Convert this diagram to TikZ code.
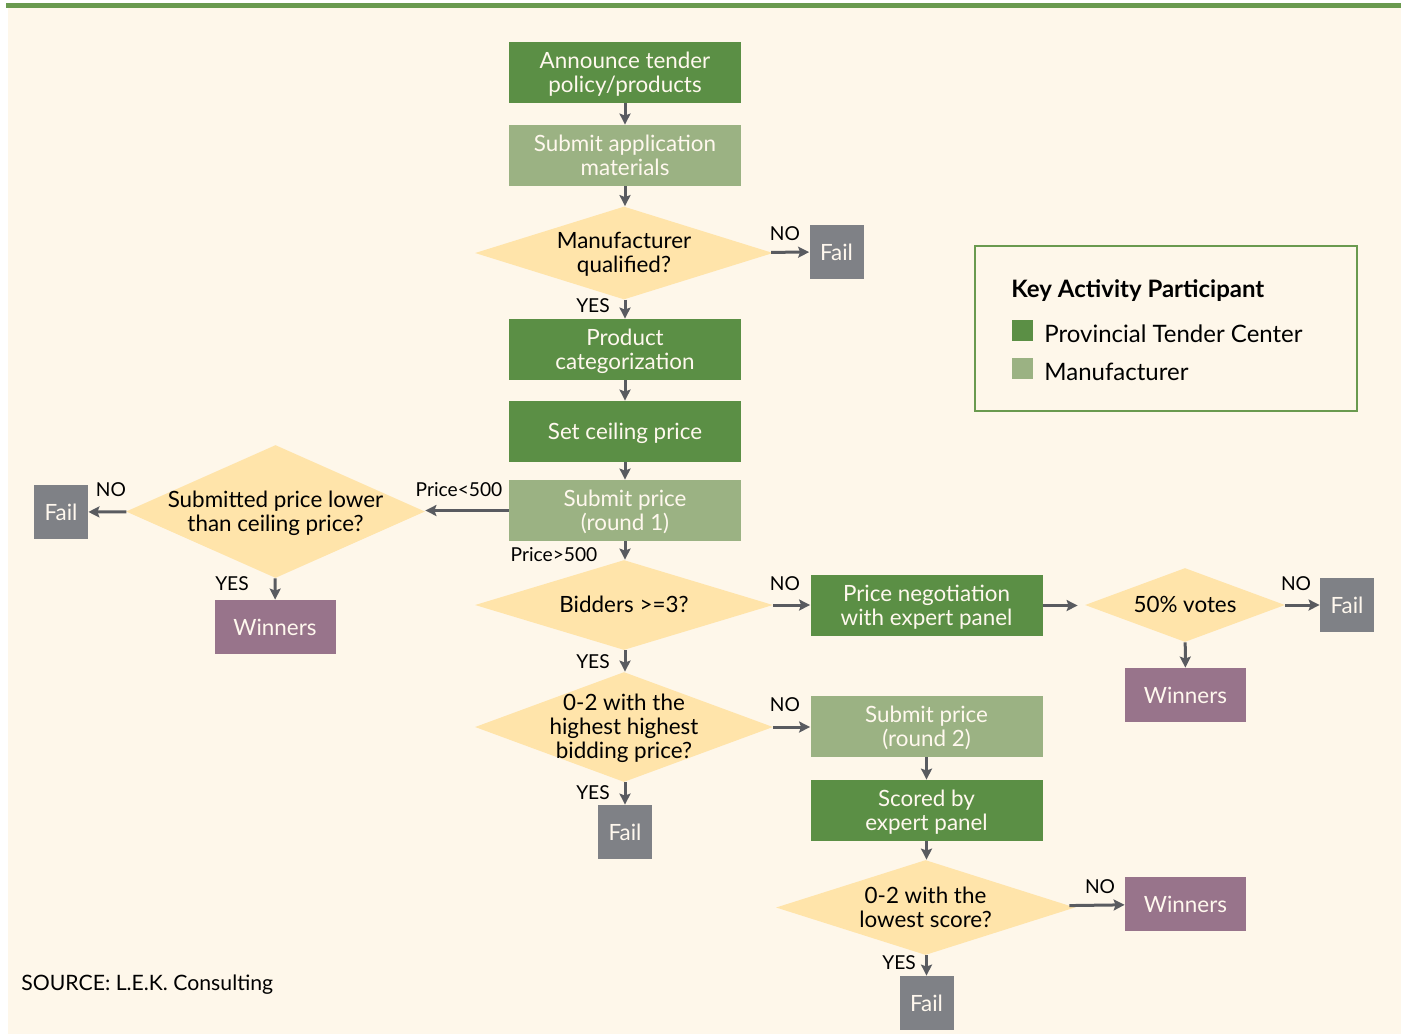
\documentclass[tikz,border=0pt]{standalone}
\usepackage{fontspec}
\setmainfont{Lato}
\usetikzlibrary{shapes.geometric,arrows.meta}
\definecolor{dkg}{HTML}{5B8F45}
\definecolor{ltg}{HTML}{9BB283}
\definecolor{dia}{HTML}{FFE4AA}
\definecolor{gbox}{HTML}{7F8186}
\definecolor{pbox}{HTML}{98748B}
\definecolor{bgc}{HTML}{FEF7EA}
\definecolor{arrc}{HTML}{595B60}
\definecolor{topg}{HTML}{6A9A4F}
\definecolor{txtw}{HTML}{FFF8EE}
\newcommand\dtext[1]{\smash{\makebox[0pt]{\raisebox{-4.2pt}{\begin{tabular}{@{}c@{}}#1\end{tabular}}}}}
\newcommand\btext[1]{\raisebox{-1.5pt}[\height][\depth]{\begin{tabular}{@{}c@{}}#1\end{tabular}}}
\begin{document}
\begin{tikzpicture}[x=0.5pt,y=-0.5pt,
  boxfont/.style={font=\fontsize{11.2}{12}\selectfont},
  pc/.style={rectangle, fill=dkg, text=txtw, boxfont, minimum width=116pt, minimum height=30.5pt, inner sep=1pt},
  mf/.style={rectangle, fill=ltg, text=txtw, boxfont, minimum width=116pt, minimum height=30.5pt, inner sep=1pt},
  failbox/.style={rectangle, fill=gbox, text=txtw, boxfont, minimum width=27pt, minimum height=27pt, inner sep=1pt},
  winbox/.style={rectangle, fill=pbox, text=txtw, boxfont, minimum width=60.5pt, minimum height=27pt, inner sep=1pt},
  dec/.style={diamond, fill=dia, text=black, boxfont, inner sep=0pt},
  arr/.style={draw=arrc, line width=1.5pt, -{Stealth[length=5.5pt,width=5.5pt,inset=1pt]}},
  lab/.style={font=\fontsize{9.6}{11}\selectfont, text=black, inner sep=0pt},
  legfont/.style={font=\fontsize{12}{14}\selectfont}
]
\useasboundingbox (0,0) rectangle (1401,1034);
\fill[white] (0,0) rectangle (1401,1034);
\fill[topg] (6,3) rectangle (1401,7.5);
\fill[bgc] (8,8) rectangle (1401,1034);

% main column
\node[pc] (announce) at (625,72.5) {\btext{Announce tender\\policy/products}};
\node[mf] (apply) at (625,155.5) {\btext{Submit application\\materials}};
\node[dec, minimum width=149pt, minimum height=46.5pt] (qual) at (624,253) {\dtext{Manufacturer\\qualified?}};
\node[failbox] (fail1) at (836.5,252) {Fail};
\node[pc] (categ) at (625,349.5) {\btext{Product\\categorization}};
\node[pc] (ceil) at (625,431.5) {\btext{Set ceiling price}};
\node[mf] (round1) at (625,510.5) {\btext{Submit price\\(round 1)}};
\node[dec, minimum width=149.5pt, minimum height=66.5pt] (lower) at (275.5,511.5) {\dtext{Submitted price lower\\than ceiling price?}};
\node[failbox] (fail2) at (61,512) {Fail};
\node[winbox] (win1) at (275,627) {Winners};
\node[dec, minimum width=149pt, minimum height=45pt] (bidders) at (624,605) {\dtext{Bidders >=3?}};
\node[pc] (nego) at (926.5,605.5) {\btext{Price negotiation\\with expert panel}};
\node[dec, minimum width=100pt, minimum height=37pt] (votes) at (1185,605) {\dtext{50\% votes}};
\node[failbox] (fail3) at (1347,605) {Fail};
\node[winbox] (win2) at (1185.5,695) {Winners};
\node[dec, minimum width=149pt, minimum height=55pt] (high) at (624,727) {\dtext{0-2 with the\\highest highest\\bidding price?}};
\node[mf] (round2) at (926.5,726.5) {\btext{Submit price\\(round 2)}};
\node[pc] (scored) at (926.5,810.5) {\btext{Scored by\\expert panel}};
\node[failbox] (fail4) at (625,832) {Fail};
\node[dec, minimum width=149.5pt, minimum height=47.5pt] (lowest) at (925.5,907.5) {\dtext{0-2 with the\\lowest score?}};
\node[winbox] (win3) at (1185.5,904) {Winners};
\node[failbox] (fail5) at (926.5,1003) {Fail};

% connectors
\draw[arr] (announce) -- (apply);
\draw[arr] (apply) -- (qual.north -| apply.south);
\draw[arr] (qual) -- (fail1);
\draw[arr] (qual.south -| categ.north) -- (categ);
\draw[arr] (categ) -- (ceil);
\draw[arr] (ceil) -- (round1);
\draw[arr] (round1.west) -- (lower.east |- round1.west);
\draw[arr] (lower) -- (fail2);
\draw[arr] (lower) -- (win1);
\draw[arr] (round1.south) -- (bidders.north -| round1.south);
\draw[arr] (bidders.east) -- (nego.west |- bidders.east);
\draw[arr, shorten >=3.5pt] (nego.east) -- (votes.west |- nego.east);
\draw[arr] (votes) -- (fail3);
\draw[arr] (votes) -- (win2);
\draw[arr] (bidders.south -| round1.south) -- (high.north -| round1.south);
\draw[arr] (high.east) -- (round2.west |- high.east);
\draw[arr] (high.south -| fail4.north) -- (fail4);
\draw[arr] (round2) -- (scored);
\draw[arr] (scored.south) -- (lowest.north -| scored.south);
\draw[arr] (lowest) -- (win3);
\draw[arr] (lowest.south -| fail5.north) -- (fail5);

% branch labels
\node[lab] (l1) at (785,234) {NO};
\node[lab] (l2) at (593,306) {YES};
\node[lab] (l3) at (459,490) {Price<500};
\node[lab] (l4) at (111,490) {NO};
\node[lab] (l5) at (232,584) {YES};
\node[lab] (l6) at (554,555) {Price>500};
\node[lab] (l7) at (785,584) {NO};
\node[lab] (l8) at (1296,584) {NO};
\node[lab] (l9) at (593,662) {YES};
\node[lab] (l10) at (785,705) {NO};
\node[lab] (l11) at (593,793) {YES};
\node[lab] (l12) at (1100,887) {NO};
\node[lab] (l13) at (899,963) {YES};

% legend
\node[draw=topg, line width=0.8pt, minimum width=191pt, minimum height=82.5pt, inner sep=0pt] (legend) at (1166,328.5) {};
\node[anchor=west, inner sep=0pt, font={\fontsize{12}{14}\selectfont\bfseries}] (legtitle) at (1011,291) {Key Activity Participant};
\node[fill=dkg, minimum size=10.5pt, inner sep=0pt] (sq1) at (1022.5,330.5) {};
\node[anchor=west, inner sep=0pt, legfont] (legt1) at (1044,334) {Provincial Tender Center};
\node[fill=ltg, minimum size=10.5pt, inner sep=0pt] (sq2) at (1022.5,368.5) {};
\node[anchor=west, inner sep=0pt, legfont] (legt2) at (1044,372) {Manufacturer};

\node[anchor=west, inner sep=0pt, font=\fontsize{10.6}{12}\selectfont] (source) at (21,985) {SOURCE: L.E.K. Consulting};
\end{tikzpicture}
\end{document}
